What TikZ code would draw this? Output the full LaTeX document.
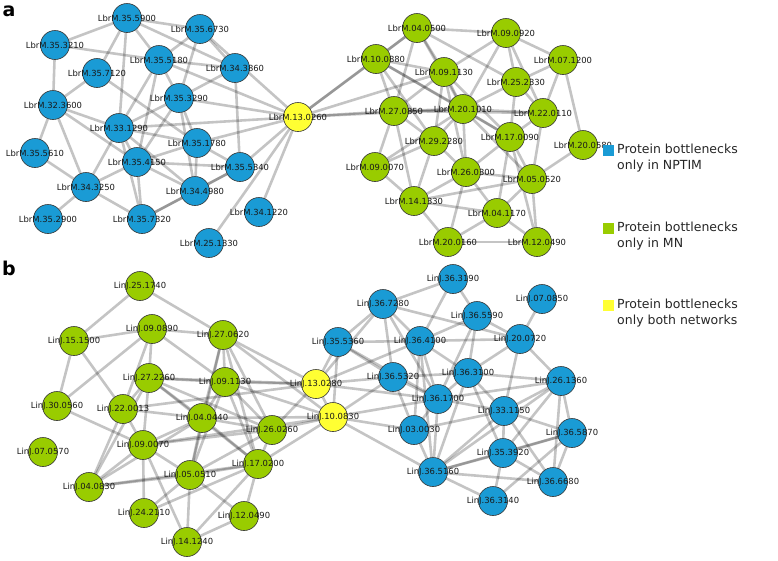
\documentclass[tikz,border=0pt]{standalone}
\usepackage{fontspec}
\setmainfont{DejaVu Sans}
\pgfdeclarelayer{bg}
\pgfsetlayers{bg,main}
\definecolor{nblue}{RGB}{26,155,213}
\definecolor{ngreen}{RGB}{153,204,0}
\definecolor{nyellow}{RGB}{255,255,51}
\tikzset{
  nd/.style={circle, draw=black!80, line width=0.6pt, minimum size=29pt, inner sep=0pt,
    label={[lbl]center:#1}},
  bn/.style={nd=#1, fill=nblue},
  gn/.style={nd=#1, fill=ngreen},
  yn/.style={nd=#1, fill=nyellow},
  lbl/.style={font=\fontsize{8.4}{9}\selectfont, text=black!90, inner sep=0pt},
  edge/.style={draw=black, draw opacity=0.23, line width=2.6pt},
  leg/.style={font=\fontsize{12.5}{15.5}\selectfont, align=left, anchor=west, inner sep=0pt, text=black!85},
  sq/.style={minimum size=11pt, inner sep=0pt, draw=none},
  panel/.style={font=\fontsize{19}{20}\selectfont\bfseries, inner sep=0pt}
}
\begin{document}
\begin{tikzpicture}[x=1pt,y=-1pt]
\useasboundingbox (0,0) rectangle (778,560);
% panel labels
\node[panel] (pa) at (9,11) {a};
\node[panel] (pb) at (9,268) {b};
% ---------- panel a, left cluster
\node[bn=LbrM.35.5900] (A5900) at (127,18) {};
\node[bn=LbrM.35.3210] (A3210) at (55,45) {};
\node[bn=LbrM.35.7120] (A7120) at (97,73) {};
\node[bn=LbrM.32.3600] (A3600) at (53,105) {};
\node[bn=LbrM.33.1290] (A1290) at (119,128) {};
\node[bn=LbrM.35.6730] (A6730) at (200,29) {};
\node[bn=LbrM.35.5180] (A5180) at (159,60) {};
\node[bn=LbrM.34.3860] (A3860) at (235,68) {};
\node[bn=LbrM.35.3290] (A3290) at (179,98) {};
\node[bn=LbrM.35.1780] (A1780) at (197,143) {};
\node[bn=LbrM.35.4150] (A4150) at (137,162) {};
\node[bn=LbrM.35.5610] (A5610) at (35,153) {};
\node[bn=LbrM.34.3250] (A3250) at (86,187) {};
\node[bn=LbrM.35.2900] (A2900) at (48,219) {};
\node[bn=LbrM.35.7320] (A7320) at (142,219) {};
\node[bn=LbrM.35.5340] (A5340) at (240,167) {};
\node[bn=LbrM.34.4980] (A4980) at (195,191) {};
\node[bn=LbrM.34.1220] (A1220) at (259,212) {};
\node[bn=LbrM.25.1330] (A1330) at (209,243) {};
\node[yn=LbrM.13.0260] (Y1) at (298,117) {};
% ---------- panel a, right cluster
\node[gn=LbrM.04.0500] (B0500) at (417,28) {};
\node[gn=LbrM.10.0880] (B0880) at (376,59) {};
\node[gn=LbrM.27.0850] (B0850) at (394,111) {};
\node[gn=LbrM.09.1130] (B1130) at (444,72) {};
\node[gn=LbrM.09.0920] (B0920) at (506,33) {};
\node[gn=LbrM.07.1200] (B1200) at (563,60) {};
\node[gn=LbrM.25.2330] (B2330) at (516,82) {};
\node[gn=LbrM.20.1010] (B1010) at (463,109) {};
\node[gn=LbrM.22.0110] (B0110) at (543,113) {};
\node[gn=LbrM.17.0090] (B0090) at (510,137) {};
\node[gn=LbrM.20.0580] (B0580) at (583,145) {};
\node[gn=LbrM.29.2280] (B2280) at (434,141) {};
\node[gn=LbrM.09.0070] (B0070) at (375,167) {};
\node[gn=LbrM.14.1330] (B1330) at (414,201) {};
\node[gn=LbrM.20.0160] (B0160) at (448,242) {};
\node[gn=LbrM.26.0300] (B0300) at (466,172) {};
\node[gn=LbrM.05.0520] (B0520) at (532,179) {};
\node[gn=LbrM.04.1170] (B1170) at (497,213) {};
\node[gn=LbrM.12.0490] (B0490) at (537,242) {};
% ---------- panel b, left cluster
\node[gn=LinJ.25.1740] (C1740) at (140,286) {};
\node[gn=LinJ.15.1500] (C1500) at (74,341) {};
\node[gn=LinJ.09.0890] (C0890) at (152,329) {};
\node[gn=LinJ.27.2260] (C2260) at (149,378) {};
\node[gn=LinJ.30.0560] (C0560) at (57,406) {};
\node[gn=LinJ.22.0013] (C0013) at (123,409) {};
\node[gn=LinJ.09.0070] (C0070) at (143,445) {};
\node[gn=LinJ.07.0570] (C0570) at (43,452) {};
\node[gn=LinJ.04.0830] (C0830) at (89,487) {};
\node[gn=LinJ.24.2110] (C2110) at (144,513) {};
\node[gn=LinJ.27.0620] (C0620) at (223,335) {};
\node[gn=LinJ.09.1130] (C1130) at (225,382) {};
\node[gn=LinJ.04.0440] (C0440) at (202,418) {};
\node[gn=LinJ.26.0260] (C0260) at (272,430) {};
\node[gn=LinJ.17.0200] (C0200) at (258,464) {};
\node[gn=LinJ.05.0510] (C0510) at (190,475) {};
\node[gn=LinJ.12.0490] (C0490) at (244,516) {};
\node[gn=LinJ.14.1240] (C1240) at (187,542) {};
\node[yn=LinJ.13.0280] (Y2) at (316,384) {};
\node[yn=LinJ.10.0830] (Y3) at (333,417) {};
% ---------- panel b, right cluster
\node[bn=LinJ.35.5360] (D5360) at (338,342) {};
\node[bn=LinJ.36.7280] (D7280) at (383,304) {};
\node[bn=LinJ.36.4100] (D4100) at (420,341) {};
\node[bn=LinJ.36.5320] (D5320) at (393,377) {};
\node[bn=LinJ.36.1700] (D1700) at (438,399) {};
\node[bn=LinJ.03.0030] (D0030) at (414,430) {};
\node[bn=LinJ.36.5160] (D5160) at (433,472) {};
\node[bn=LinJ.36.3190] (D3190) at (453,279) {};
\node[bn=LinJ.07.0850] (D0850) at (542,299) {};
\node[bn=LinJ.36.5590] (D5590) at (477,316) {};
\node[bn=LinJ.20.0720] (D0720) at (520,339) {};
\node[bn=LinJ.36.3100] (D3100) at (468,373) {};
\node[bn=LinJ.26.1360] (D1360) at (561,381) {};
\node[bn=LinJ.33.1150] (D1150) at (504,411) {};
\node[bn=LinJ.36.5870] (D5870) at (572,433) {};
\node[bn=LinJ.35.3920] (D3920) at (503,453) {};
\node[bn=LinJ.36.6680] (D6680) at (553,482) {};
\node[bn=LinJ.36.3140] (D3140) at (493,501) {};
% ---------- legend
\node[sq, fill=nblue] (s1) at (608,150) {};
\node[leg] (t1) at (617,158) {Protein bottlenecks\\only in NPTIM};
\node[sq, fill=ngreen] (s2) at (608,228) {};
\node[leg] (t2) at (617,236) {Protein bottlenecks\\only in MN};
\node[sq, fill=nyellow] (s3) at (608,305) {};
\node[leg] (t3) at (617,313) {Protein bottlenecks\\only both networks};
% ---------- edges
\begin{pgfonlayer}{bg}
\foreach \u/\v in {
 A3210/A5900, A3210/A5180, A3210/A3600, A7120/A3600, A7120/A5900, A7120/A1780,
 A5900/A1290, A5900/A6730, A5900/A5180, A5900/A3860, A6730/A5180, A6730/A3290,
 A6730/A3860, A6730/Y1, A5180/A3290, A5180/A1290, A5180/A3860, A5180/A4150, A5180/Y1,
 A3860/A3290, A3860/A5340, A3290/Y1, A3290/A1780, A3290/A1290, A3290/A4150, A3290/A4980,
 A1290/Y1, A1290/A1780, A1290/A4150, A1290/A4980, A1290/A3600, A1290/A3250, A1290/A7320,
 A3600/A5610, A3600/A3250, A3600/A4150, A5610/A3250, A3250/A2900, A3250/A4150,
 A3250/A7320, A4150/A7320, A4150/A1780, A4150/A4980, A4150/A5340, A7320/A4980,
 A7320/A5340, A1780/A4980, A1780/A5340, A1780/Y1, A5340/Y1, A4980/A5340, A1220/Y1, A1330/Y1,
 Y1/B0880, Y1/B0850, Y1/B0500, Y1/B1130, Y1/B1010,
 B0500/B0880, B0500/B0850, B0500/B1130, B0500/B0920, B0500/B1010, B0500/B2330,
 B0880/B0850, B0880/B1130, B0880/B1010, B0880/B2280, B0880/B0090,
 B0850/B2280, B0850/B0070, B0850/B1330, B0850/B1010, B0850/B1130, B0850/B0110,
 B0920/B1130, B0920/B1200, B0920/B2330, B0920/B0110, B0920/B1010,
 B1200/B0110, B1200/B0580, B1200/B2330, B2330/B1010, B2330/B0110, B2330/B0090,
 B1130/B1010, B1130/B2280, B1130/B0300, B1130/B0090,
 B1010/B0110, B1010/B0090, B1010/B2280, B1010/B0300, B1010/B0520,
 B0110/B0090, B0110/B0520, B0090/B0520, B0090/B0300, B0090/B1170, B0090/B0490,
 B0580/B0520, B2280/B0070, B2280/B1330, B2280/B0300, B0070/B1330, B0070/B1010,
 B1330/B0160, B1330/B0300, B1330/B1170, B1330/B0520,
 B0300/B0520, B0300/B1170, B0300/B0160, B0520/B1170, B0520/B0490,
 B1170/B0490, B1170/B0160, B0160/B0490,
 C1740/C1500, C1740/C0620, C1500/C0890, C1500/C0560, C1500/C0013,
 C0890/C0560, C0890/C2260, C0890/C0013, C0890/C0620, C0890/C1130,
 C2260/C0013, C2260/C0070, C2260/C0830, C2260/C1130, C2260/C0440, C2260/Y2, C2260/C0260, C2260/C0200,
 C0560/C0070, C0013/C0070, C0013/C0830, C0013/C0440, C0013/Y2,
 C0070/C0830, C0070/C2110, C0070/C0510, C0070/C0440, C0070/C1240, C0070/C0260, C0070/Y3,
 C0830/C0510, C0830/C0200, C0830/C0440, C2110/C0510, C2110/C0200,
 C0620/C1130, C0620/C0440, C0620/C0260, C0620/C0200, C0620/Y2, C0620/Y3, C0620/C0510,
 C1130/C0440, C1130/C0260, C1130/C0200, C1130/Y2, C1130/Y3, C1130/C0510,
 C0440/C0260, C0440/C0510, C0440/C0200, C0440/Y3,
 C0260/C0200, C0260/Y2, C0260/Y3, C0260/C0510,
 C0200/C0510, C0200/C0490, C0200/C1240, C0200/Y3,
 C0510/C1240, C0510/C0490, C0490/C1240,
 Y2/Y3, Y2/D5360, Y2/D7280, Y2/D5320, Y2/D1700, Y2/D4100,
 Y3/D5360, Y3/D5320, Y3/D1700, Y3/D0030, Y3/D5160,
 D5360/D7280, D5360/D4100, D5360/D5320, D5360/D1700,
 D7280/D4100, D7280/D3190, D7280/D5320, D7280/D1700, D7280/D0720,
 D3190/D4100, D3190/D5590, D4100/D5590, D4100/D0720, D4100/D3100, D4100/D1700, D4100/D0030, D4100/D5160,
 D5590/D0720, D5590/D3100, D5590/D1700, D0850/D0720,
 D0720/D1360, D0720/D1150, D0720/D3100,
 D5320/D1700, D5320/D0030, D5320/D3100,
 D3100/D1360, D3100/D1150, D3100/D1700, D3100/D5160, D3100/D3920,
 D1700/D0030, D1700/D5160, D1700/D1150, D1700/D1360,
 D0030/D5160, D0030/D1150,
 D1360/D1150, D1360/D5870, D1360/D6680, D1360/D3920, D1360/D5160,
 D1150/D5870, D1150/D3920, D1150/D5160, D1150/D6680,
 D5870/D3920, D5870/D6680, D5870/D5160, D5870/D3140,
 D3920/D5160, D3920/D3140, D3920/D6680, D5160/D3140, D5160/D6680}
  \draw[edge] (\u) -- (\v);
\end{pgfonlayer}
\end{tikzpicture}
\end{document}
